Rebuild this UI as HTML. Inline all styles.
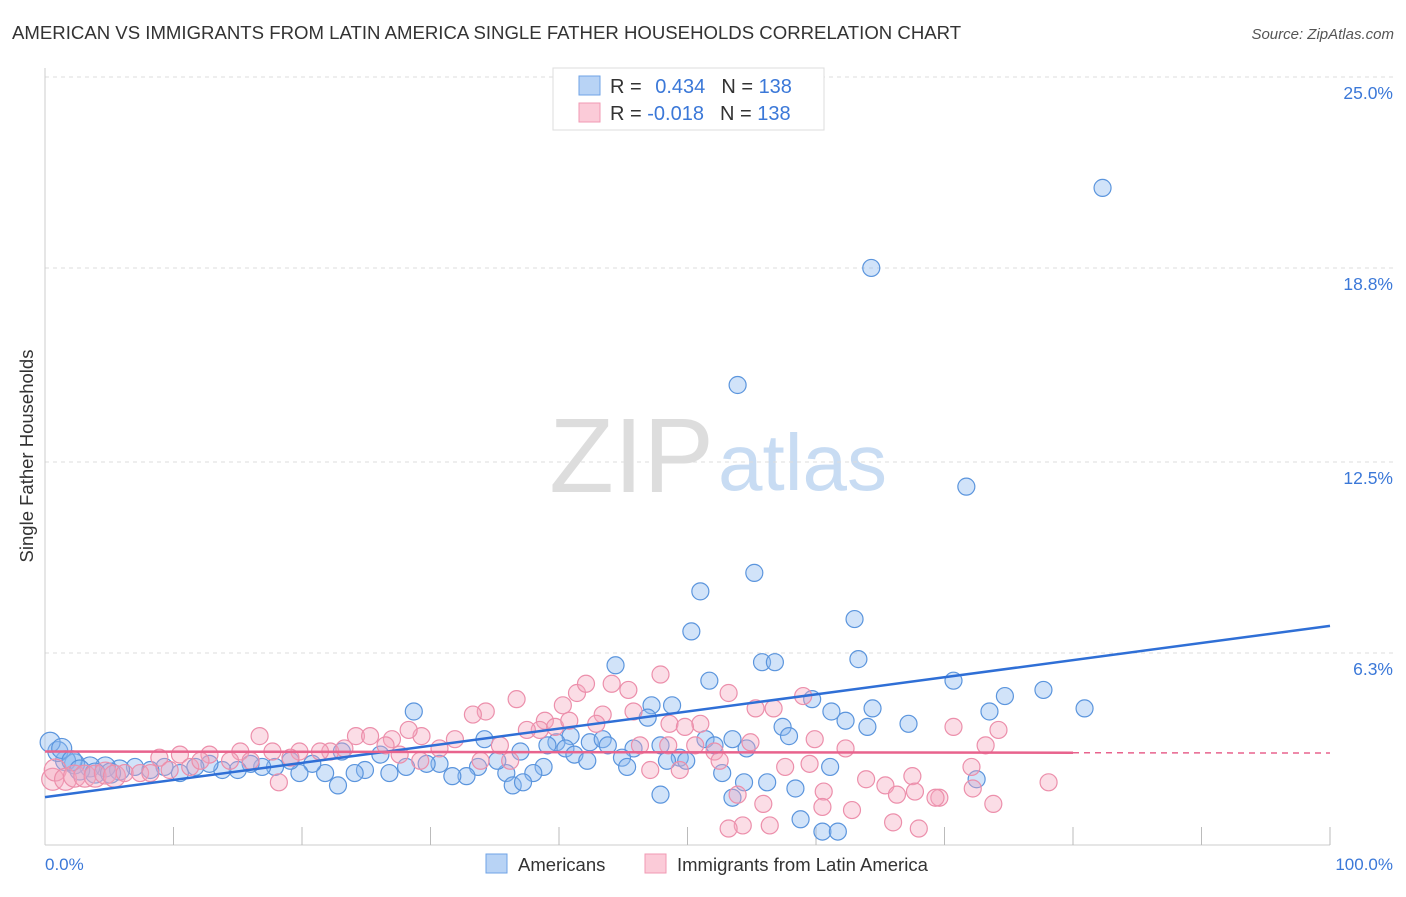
<!DOCTYPE html>
<html><head><meta charset="utf-8">
<style>
body{margin:0;background:#fff;font-family:"Liberation Sans",sans-serif;}
svg text{font-family:"Liberation Sans",sans-serif;}
</style></head>
<body>
<svg id="chart" width="1406" height="892" viewBox="0 0 1406 892" xmlns="http://www.w3.org/2000/svg">
<text x="12" y="39" font-size="18.6" fill="#333">AMERICAN VS IMMIGRANTS FROM LATIN AMERICA SINGLE FATHER HOUSEHOLDS CORRELATION CHART</text>
<text x="1394" y="39" font-size="15" fill="#555" font-style="italic" text-anchor="end">Source: ZipAtlas.com</text>
<text x="714" y="492" font-size="106" fill="#ddd" font-family="Liberation Serif" text-anchor="end">ZIP</text>
<text x="718" y="490" font-size="80" fill="#c8dcf3">atlas</text>
<g id="grid"></g>
<line x1="45" y1="68" x2="45" y2="845" stroke="#ccc"/>
<line x1="45" y1="845" x2="1330" y2="845" stroke="#ccc"/>
<g id="xticks"></g>
<text x="33" y="456" font-size="18.5" fill="#333" text-anchor="middle" transform="rotate(-90 33 456)">Single Father Households</text>
<text x="45" y="870" font-size="17" fill="#3b78d8">0.0%</text>
<text x="1393" y="870" font-size="17" fill="#3b78d8" text-anchor="end">100.0%</text>
<g id="pts"></g>
<g id="lines"></g>
<g>
<rect x="553" y="68" width="271" height="62" fill="#fff" stroke="#ddd"/>
<rect x="579" y="76" width="21" height="19" fill="#b8d3f5" stroke="#6fa3e6"/>
<rect x="579" y="103" width="21" height="19" fill="#fbcbd8" stroke="#f09ab3"/>
<text x="610" y="93" font-size="20" fill="#333">R = <tspan fill="#3b78d8" dx="8">0.434</tspan><tspan dx="16" fill="#333">N = </tspan><tspan fill="#3b78d8">138</tspan></text>
<text x="610" y="120" font-size="20" fill="#333">R = <tspan fill="#3b78d8">-0.018</tspan><tspan dx="16" fill="#333">N = </tspan><tspan fill="#3b78d8">138</tspan></text>
</g>
<g>
<rect x="486" y="854" width="21" height="19" fill="#b8d3f5" stroke="#6fa3e6"/>
<text x="518" y="871" font-size="18.5" fill="#333">Americans</text>
<rect x="645" y="854" width="21" height="19" fill="#fbcbd8" stroke="#f09ab3"/>
<text x="677" y="871" font-size="18.5" fill="#333">Immigrants from Latin America</text>
</g>
</svg>
<script>
const yTicks=[6.3,12.5,18.8,25.0];
const yTickLabels=["6.3%","12.5%","18.8%","25.0%"];
const blueX=[82.3,64.3,53.9,71.7,55.2,51.0,50.3,63.0,63.3,55.8,56.8,44.4,51.7,70.7,77.7,74.7,59.7,80.9,73.5,64.4,61.2,47.2,48.8,28.7,62.3,67.2,64.0,57.4,57.9,46.9,40.9,42.4,43.4,43.8,39.8,34.2,37.0,39.1,40.5,41.2,45.8,47.9,51.4,52.1,54.6,49.4,48.4,49.9,44.9,45.3,42.2,38.8,38.0,35.9,36.4,37.2,35.2,33.7,32.8,31.7,30.7,29.7,28.1,26.8,26.1,24.9,24.1,23.1,22.8,21.8,20.8,19.8,19.1,17.9,16.9,16.0,15.0,13.8,12.8,11.7,10.5,9.3,8.2,7.0,5.8,4.7,3.5,2.3,1.6,1.0,0.4,1.3,2.1,2.7,3.9,5.1,47.9,53.5,54.4,56.2,58.4,52.7,61.1,58.8,60.5,61.7,72.5,53.5];
const blueY=[21.4,18.8,15.0,11.7,8.9,8.3,7.0,7.4,6.1,6.0,6.0,5.9,5.4,5.4,5.1,4.9,4.8,4.5,4.4,4.5,4.4,4.6,4.6,4.4,4.1,4.0,3.9,3.9,3.6,4.2,3.6,3.4,3.5,3.3,3.4,3.5,3.1,3.3,3.2,3.0,3.2,3.3,3.5,3.3,3.2,2.9,2.8,2.8,2.9,2.6,2.8,2.6,2.4,2.4,2.0,2.1,2.8,2.6,2.3,2.3,2.7,2.7,2.6,2.4,3.0,2.5,2.4,3.1,2.0,2.4,2.7,2.4,2.8,2.6,2.6,2.7,2.5,2.5,2.7,2.6,2.4,2.6,2.5,2.6,2.5,2.6,2.6,2.7,2.8,3.1,3.4,3.2,2.8,2.5,2.4,2.4,1.7,1.6,2.1,2.1,1.9,2.4,2.6,0.9,0.5,0.5,2.2,3.5];
const pinkX=[47.9,44.1,45.4,41.4,42.1,36.7,40.3,53.2,59.0,34.3,33.3,43.4,45.8,38.9,55.3,56.7,51.0,48.6,42.9,38.5,37.5,39.7,40.8,49.8,70.7,74.2,29.3,28.3,24.2,25.3,27.0,16.7,31.9,46.3,48.5,59.9,62.3,73.2,54.9,50.6,52.1,35.4,30.7,22.2,19.8,17.7,15.2,12.8,10.5,8.9,21.4,27.6,33.9,36.2,29.2,47.1,49.4,52.5,57.6,59.5,72.1,67.5,63.9,65.4,66.3,67.7,69.6,72.2,73.8,78.1,60.6,60.5,62.8,55.9,53.9,54.3,56.4,53.2,66.0,68.0,69.3,18.2,0.6,0.8,1.6,2.3,3.1,3.9,4.7,5.4,6.2,7.4,8.2,9.7,11.3,12.1,14.4,16.0,19.1,23.3,26.5];
const pinkY=[5.6,5.3,5.1,5.0,5.3,4.8,4.6,5.0,4.9,4.4,4.3,4.3,4.4,4.1,4.5,4.5,4.0,4.0,4.0,3.8,3.8,3.9,4.1,3.9,3.9,3.8,3.6,3.8,3.6,3.6,3.5,3.6,3.5,3.3,3.3,3.5,3.2,3.3,3.4,3.3,3.1,3.3,3.2,3.1,3.1,3.1,3.1,3.0,3.0,2.9,3.1,3.0,2.8,2.8,2.8,2.5,2.5,2.8,2.6,2.7,2.6,2.3,2.2,2.0,1.7,1.8,1.6,1.9,1.4,2.1,1.8,1.3,1.2,1.4,1.7,0.7,0.7,0.6,0.8,0.6,1.6,2.1,2.2,2.5,2.2,2.3,2.3,2.3,2.4,2.3,2.4,2.4,2.4,2.5,2.6,2.8,2.8,2.8,2.9,3.2,3.3];
const blueTrend=[1.62,7.18];
const pinkTrend=[3.10,3.05];
const NS="http://www.w3.org/2000/svg";
const sx=v=>45+v*12.85;
const sy=v=>847-v*30.8;
function mk(tag,attrs,parent){const e=document.createElementNS(NS,tag);for(const k in attrs)e.setAttribute(k,attrs[k]);document.getElementById(parent).appendChild(e);return e;}
yTicks.forEach((t,i)=>{
  const l=mk('line',{x1:45,x2:1394,y1:sy(t),y2:sy(t),stroke:'#ddd','stroke-dasharray':'4 4'},'grid');
  
  
  const tx=mk('text',{x:1393,y:sy(t)+22,'font-size':17.5,fill:'#3b78d8','text-anchor':'end'},'grid');
  tx.textContent=yTickLabels[i];
  
  
});
for(let i=1;i<=10;i++){
  const l=mk('line',{x1:sx(i*10),x2:sx(i*10),y1:827,y2:845,stroke:'#bbb'},'xticks');
  
  
}
blueX.forEach((x,i)=>{
  const r=x<6?10:8.5;
  const c=mk('circle',{cx:sx(x),cy:sy(blueY[i]),r:r,fill:'rgba(140,185,240,0.4)',stroke:'#5b95dd','stroke-width':1.2},'pts');
  
  
});
pinkX.forEach((x,i)=>{
  const r=x<6?11:8.5;
  const c=mk('circle',{cx:sx(x),cy:sy(pinkY[i]),r:r,fill:'rgba(245,165,190,0.38)',stroke:'#ec8fab','stroke-width':1.2},'pts');
  
  
});
const bl=mk('line',{x1:sx(0),y1:sy(blueTrend[0]),x2:sx(100),y2:sy(blueTrend[1]),stroke:'#2f6fd6','stroke-width':2.5},'lines');


const pm=pinkTrend[0]+(pinkTrend[1]-pinkTrend[0])*0.8;
const pl=mk('line',{x1:sx(0),y1:sy(pinkTrend[0]),x2:sx(80),y2:sy(pm),stroke:'#e8638d','stroke-width':2.5},'lines');


const pd=mk('line',{x1:sx(80),y1:sy(pm),x2:sx(100),y2:sy(pinkTrend[1]),stroke:'#e8638d','stroke-width':1.5,'stroke-dasharray':'6 5'},'lines');


</script>
</body></html>
